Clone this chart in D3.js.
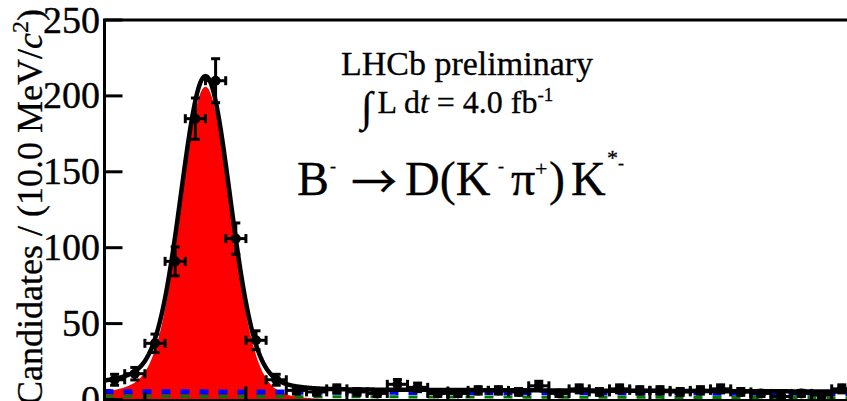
<!DOCTYPE html>
<html>
<head>
<meta charset="utf-8">
<script src="https://cdn.jsdelivr.net/npm/d3@7"></script>
<style>
  html, body { margin: 0; padding: 0; background: #fff; }
  svg { display: block; }
  text { font-family: "Liberation Serif", "Times New Roman", serif; fill: #000; }
</style>
</head>
<body>
<svg id="chart" width="847" height="401"></svg>
<script>
// B- -> D(K- pi+) K*- invariant mass, 10 MeV bins
const binCentres = [5235, 5245, 5255, 5265, 5275, 5285, 5295, 5305, 5315, 5325,
                    5335, 5345, 5355, 5365, 5375, 5385, 5395, 5405, 5415, 5425,
                    5435, 5445, 5455, 5465, 5475, 5485, 5495, 5505, 5515, 5525,
                    5535, 5545, 5555, 5565, 5575, 5585, 5595];
const counts = [13, 17, 37, 91, 185, 210, 106, 39, 13, 6,
                5, 7, 5, 4, 10, 8, 4, 4, 6, 6,
                5, 9, 4, 7, 5, 7, 6, 6, 5, 6,
                7, 5, 4, 2, 4, 3, 7];
const binWidth = 10;
const massRange = [5230, 5600];
const yTicks = [0, 50, 100, 150, 200, 250];
const xMajorTicks = [5300, 5400, 5500, 5600];
const xMinorTicks = [5250, 5350, 5450, 5550];

// Fit model components (events per 10 MeV)
const sigMean = 5280;
const sigCore = { amp: 192, sigma: 12 };
const sigTail = { amp: 14, sigmaLow: 35, sigmaHigh: 22 };
const combBkg = { atLow: 5.2, atHigh: 4.0 };   // blue dashed
const otherBkg = { atLow: 2.2, atHigh: 1.2 };  // green dashed

const svg = d3.select("#chart");
const x = d3.scaleLinear().domain(massRange).range([104.5, 851.9]);
const y = d3.scaleLinear().domain([0, 250]).range([399.5, 20]);

function expShape(p, m) {
  const t = (m - massRange[0]) / (massRange[1] - massRange[0]);
  return p.atLow * Math.pow(p.atHigh / p.atLow, t);
}
function signal(m) {
  const d = m - sigMean;
  const s2 = d < 0 ? sigTail.sigmaLow : sigTail.sigmaHigh;
  return sigCore.amp * Math.exp(-0.5 * (d / sigCore.sigma) ** 2) +
         sigTail.amp * Math.exp(-0.5 * (d / s2) ** 2);
}
const comb = m => expShape(combBkg, m);
const other = m => expShape(otherBkg, m);
const total = m => signal(m) + comb(m) + other(m);

const grid = d3.range(massRange[0], massRange[1] + 0.25, 0.5);

// signal fill
svg.append("path")
  .attr("d", d3.area().x(m => x(m)).y0(y(0)).y1(m => y(signal(m)))(grid))
  .attr("fill", "#ff0000");

// background components
svg.append("path")
  .attr("d", d3.line().x(m => x(m)).y(m => y(comb(m)))(grid))
  .attr("fill", "none").attr("stroke", "#0000ff")
  .attr("stroke-width", 5).attr("stroke-dasharray", "9,10");
svg.append("path")
  .attr("d", d3.line().x(m => x(m)).y(m => y(other(m)))(grid))
  .attr("fill", "none").attr("stroke", "#007a00")
  .attr("stroke-width", 3).attr("stroke-dasharray", "9,10");

// frame and ticks
const frame = svg.append("g").attr("stroke", "#000").attr("stroke-width", 3);
frame.append("line").attr("x1", x(massRange[0])).attr("x2", x(massRange[0]))
  .attr("y1", y(250)).attr("y2", y(0) + 1.5);
frame.append("line").attr("x1", x(massRange[0]) - 1.5).attr("x2", x(massRange[1]))
  .attr("y1", y(250)).attr("y2", y(250));
frame.append("line").attr("x1", x(massRange[0])).attr("x2", x(massRange[1]))
  .attr("y1", y(0) + 1).attr("y2", y(0) + 1);
frame.selectAll("line.yt").data(yTicks).enter().append("line")
  .attr("x1", x(massRange[0])).attr("x2", x(massRange[0]) + 18)
  .attr("y1", d => y(d)).attr("y2", d => y(d));
frame.selectAll("line.xM").data(xMajorTicks).enter().append("line")
  .attr("x1", d => x(d)).attr("x2", d => x(d))
  .attr("y1", y(0)).attr("y2", y(0) - 13);
frame.selectAll("line.xm").data(xMinorTicks).enter().append("line")
  .attr("x1", d => x(d)).attr("x2", d => x(d))
  .attr("y1", y(0)).attr("y2", y(0) - 7);

// total fit
svg.append("path")
  .attr("d", d3.line().x(m => x(m)).y(m => y(total(m)))(grid))
  .attr("fill", "none").attr("stroke", "#000").attr("stroke-width", 4.5)
  .attr("stroke-linejoin", "round");

// data points with error bars
const pts = svg.append("g").attr("stroke", "#000").attr("stroke-width", 3);
binCentres.forEach((m, i) => {
  const n = counts[i], e = Math.sqrt(n);
  const cx = x(m), cy = y(n);
  const xl = x(m - binWidth / 2), xr = x(m + binWidth / 2);
  const yt = y(n + e), yb = y(Math.max(0, n - e));
  pts.append("line").attr("x1", xl).attr("x2", xr).attr("y1", cy).attr("y2", cy);
  pts.append("line").attr("x1", cx).attr("x2", cx).attr("y1", yt).attr("y2", yb);
  pts.append("line").attr("x1", xl).attr("x2", xl).attr("y1", cy - 4.5).attr("y2", cy + 4.5);
  pts.append("line").attr("x1", xr).attr("x2", xr).attr("y1", cy - 4.5).attr("y2", cy + 4.5);
  pts.append("line").attr("x1", cx - 4.5).attr("x2", cx + 4.5).attr("y1", yt).attr("y2", yt);
  pts.append("line").attr("x1", cx - 4.5).attr("x2", cx + 4.5).attr("y1", yb).attr("y2", yb);
  pts.append("circle").attr("cx", cx).attr("cy", cy).attr("r", 5)
    .attr("fill", "#000").attr("stroke", "none");
});

// y tick labels
svg.selectAll("text.yl").data(yTicks).enter().append("text")
  .attr("x", 100).attr("y", d => y(d)).attr("dy", "0.33em")
  .attr("text-anchor", "end").attr("font-size", 38)
  .attr("stroke", "#000").attr("stroke-width", 0.4)
  .text(d => d);

// y-axis title
const yt = svg.append("text")
  .attr("transform", "translate(42,9) rotate(-90)")
  .attr("text-anchor", "end").attr("font-size", 36)
  .attr("stroke", "#000").attr("stroke-width", 0.3);
yt.append("tspan").text("Candidates / (10.0 MeV/");
yt.append("tspan").attr("font-style", "italic").text("c");
yt.append("tspan").attr("font-size", 24).attr("dy", -14).text("2");
yt.append("tspan").attr("dy", 14).text(")");

// annotations
svg.append("text").attr("x", 467).attr("y", 75).attr("text-anchor", "middle")
  .attr("font-size", 34).attr("stroke", "#000").attr("stroke-width", 0.3)
  .text("LHCb preliminary");

const lumi = svg.append("text").attr("x", 361).attr("y", 113).attr("font-size", 32)
  .attr("stroke", "#000").attr("stroke-width", 0.3);
lumi.append("tspan").attr("font-size", 42).attr("dy", 8).text("\u222B");
lumi.append("tspan").attr("dy", -8).attr("dx", 5).text("L d");
lumi.append("tspan").attr("font-style", "italic").text("t");
lumi.append("tspan").text(" = 4.0 fb");
lumi.append("tspan").attr("font-size", 19).attr("dy", -12).text("-1");

const dec = svg.append("g").attr("font-size", 48)
  .attr("stroke", "#000").attr("stroke-width", 0.3);
const piece = (tx, ty, s, size, family) => {
  const t = dec.append("text").attr("x", tx).attr("y", ty).text(s);
  if (size) t.attr("font-size", size);
  if (family) t.style("font-family", family);
  return t;
};
piece(297, 195, "B");
piece(330, 172, "-", 18);
piece(351, 198, "\u2192", 46, "'Noto Sans CJK SC'");
piece(405, 195, "D(K");
piece(498, 172, "-", 18);
piece(511, 195, "\u03C0");
piece(535, 176, "+", 22);
piece(549, 195, ")");
piece(571, 195, "K");
piece(607, 165, "*", 22);
piece(618, 169, "-", 18);
</script>
</body>
</html>
